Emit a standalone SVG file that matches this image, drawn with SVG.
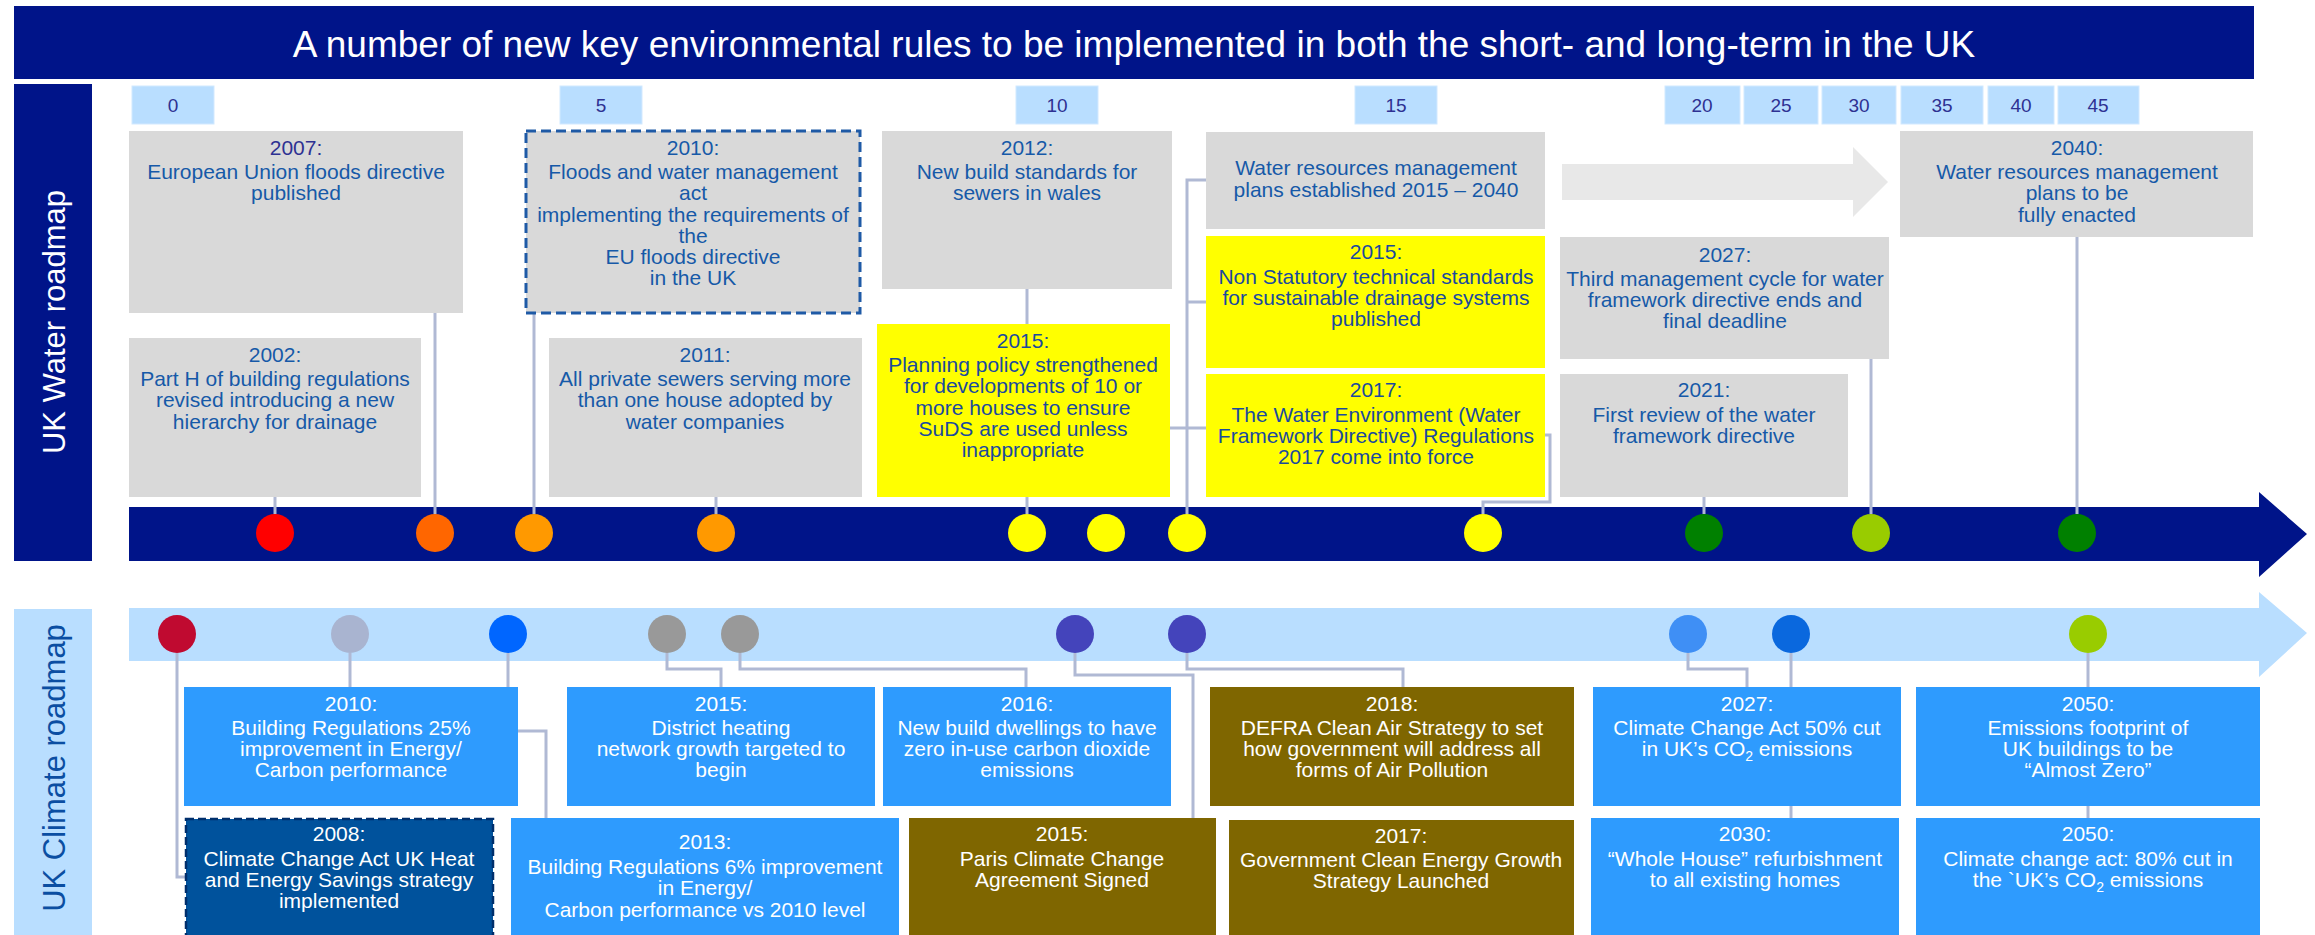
<svg xmlns="http://www.w3.org/2000/svg" width="2315" height="935" viewBox="0 0 2315 935">
  <style>
    text { font-family: "Liberation Sans", Arial, sans-serif; }
    .title { font-size: 37px; fill: #ffffff; text-anchor: middle; }
    .side { font-size: 31px; text-anchor: middle; }
    .tick rect { fill: #B9DEFF; stroke: #D2E9FF; stroke-width: 1; }
    .tick text { font-size: 19px; fill: #2E3192; text-anchor: middle; }
    .ev text { font-size: 21px; text-anchor: middle; }
    .gray rect { fill: #D9D9D9; }
    .yel rect { fill: #FFFF00; }
    .wtxt { fill: #1659A8; }
    .ytxt { fill: #1A4A9E; }
    .blue rect { fill: #2E9BFE; }
    .olive rect { fill: #7F6600; }
    .ctxt { fill: #ffffff; }
    .conn { fill: none; stroke: #B0B9D4; stroke-width: 3; }
  </style>

  <!-- heading -->
  <g id="title">
    <rect x="14" y="6" width="2240" height="73" fill="#001489"/>
    <text class="title" x="1134" y="57">A number of new key environmental rules to be implemented in both the short- and long-term in the UK</text>
  </g>

  <!-- lane labels -->
  <g id="lane-water">
    <rect x="14" y="84" width="78" height="477" fill="#001489"/>
    <text class="side" fill="#ffffff" transform="translate(65,322) rotate(-90)">UK Water roadmap</text>
  </g>
  <g id="lane-climate">
    <rect x="14" y="609" width="78" height="326" fill="#B9DEFF"/>
    <text class="side" fill="#0B4EA2" transform="translate(65,768) rotate(-90)">UK Climate roadmap</text>
  </g>

  <!-- year ticks -->
  <g id="ticks" class="tick">
    <rect x="132" y="86" width="82" height="38"/><text x="173" y="112">0</text>
    <rect x="560" y="86" width="82" height="38"/><text x="601" y="112">5</text>
    <rect x="1016" y="86" width="82" height="38"/><text x="1057" y="112">10</text>
    <rect x="1355" y="86" width="82" height="38"/><text x="1396" y="112">15</text>
    <rect x="1665" y="86" width="75" height="38"/><text x="1702" y="112">20</text>
    <rect x="1744" y="86" width="74" height="38"/><text x="1781" y="112">25</text>
    <rect x="1822" y="86" width="74" height="38"/><text x="1859" y="112">30</text>
    <rect x="1901" y="86" width="82" height="38"/><text x="1942" y="112">35</text>
    <rect x="1988" y="86" width="66" height="38"/><text x="2021" y="112">40</text>
    <rect x="2058" y="86" width="81" height="38"/><text x="2098" y="112">45</text>
  </g>

  <!-- timeline arrows -->
  <g id="water-timeline">
    <polygon points="129,507 2259,507 2259,492 2307,534 2259,577 2259,561 129,561" fill="#001489"/>
  </g>
  <g id="climate-timeline">
    <polygon points="129,608 2259,608 2259,592 2307,633 2259,677 2259,661 129,661" fill="#B9DEFF"/>
  </g>
  <g id="plan-arrow">
    <polygon points="1562,164 1853,164 1853,147 1888,182 1853,217 1853,200 1562,200" fill="#E8E8E8"/>
  </g>

  <!-- connectors -->
  <g id="connectors" class="conn">
    <path d="M275,514 V497"/>
    <path d="M435,514 V313"/>
    <path d="M534,514 V313"/>
    <path d="M716,514 V497"/>
    <path d="M1027,514 V289"/>
    <path d="M1187,514 V180 H1206 M1187,302 H1206 M1170,428 H1206"/>
    <path d="M1483,514 V502 H1550 V435 H1545"/>
    <path d="M1704,514 V497"/>
    <path d="M1871,514 V359"/>
    <path d="M2077,514 V237"/>

    <path d="M177,653 V877 H186"/>
    <path d="M350,653 V687"/>
    <path d="M508,653 V731 H546 V818"/>
    <path d="M667,653 V669 H721 V687"/>
    <path d="M740,653 V669 H1026 V687"/>
    <path d="M1075,653 V675 H1193 V818"/>
    <path d="M1187,653 V669 H1403 V687"/>
    <path d="M1688,653 V669 H1747 V687"/>
    <path d="M1791,653 V818"/>
    <path d="M2088,653 V818"/>
  </g>

  <!-- water markers -->
  <g id="water-markers">
    <circle cx="275" cy="533" r="19" fill="#FF0000"/>
    <circle cx="435" cy="533" r="19" fill="#FF6600"/>
    <circle cx="534" cy="533" r="19" fill="#FF9900"/>
    <circle cx="716" cy="533" r="19" fill="#FF9900"/>
    <circle cx="1027" cy="533" r="19" fill="#FFFF00"/>
    <circle cx="1106" cy="533" r="19" fill="#FFFF00"/>
    <circle cx="1187" cy="533" r="19" fill="#FFFF00"/>
    <circle cx="1483" cy="533" r="19" fill="#FFFF00"/>
    <circle cx="1704" cy="533" r="19" fill="#008000"/>
    <circle cx="1871" cy="533" r="19" fill="#99CC00"/>
    <circle cx="2077" cy="533" r="19" fill="#008000"/>
  </g>

  <!-- climate markers -->
  <g id="climate-markers">
    <circle cx="177" cy="634" r="19" fill="#C00A30"/>
    <circle cx="350" cy="634" r="19" fill="#A9B4D0"/>
    <circle cx="508" cy="634" r="19" fill="#0066FF"/>
    <circle cx="667" cy="634" r="19" fill="#999999"/>
    <circle cx="740" cy="634" r="19" fill="#999999"/>
    <circle cx="1075" cy="634" r="19" fill="#4444BB"/>
    <circle cx="1187" cy="634" r="19" fill="#4444BB"/>
    <circle cx="1688" cy="634" r="19" fill="#3F8FF5"/>
    <circle cx="1791" cy="634" r="19" fill="#0A68DE"/>
    <circle cx="2088" cy="634" r="19" fill="#99CC00"/>
  </g>

  <!-- water events -->
  <g id="w2007" class="ev gray">
    <rect x="129" y="131" width="334" height="182"/>
    <text x="296" y="155" fill="#2E3192">2007:</text>
    <text class="wtxt" x="296" y="179">European Union floods directive</text>
    <text class="wtxt" x="296" y="200">published</text>
  </g>
  <g id="w2010" class="ev">
    <rect x="526" y="131" width="334" height="182" fill="#D9D9D9" stroke="#1F5AA6" stroke-width="3" stroke-dasharray="10 5"/>
    <text class="wtxt" x="693" y="155">2010:</text>
    <text class="wtxt" x="693" y="179">Floods and water management</text>
    <text class="wtxt" x="693" y="200">act</text>
    <text class="wtxt" x="693" y="222">implementing the requirements of</text>
    <text class="wtxt" x="693" y="243">the</text>
    <text class="wtxt" x="693" y="264">EU floods directive</text>
    <text class="wtxt" x="693" y="285">in the UK</text>
  </g>
  <g id="w2012" class="ev gray">
    <rect x="882" y="131" width="290" height="158"/>
    <text class="wtxt" x="1027" y="155">2012:</text>
    <text class="wtxt" x="1027" y="179">New build standards for</text>
    <text class="wtxt" x="1027" y="200">sewers in wales</text>
  </g>
  <g id="w2015-plans" class="ev gray">
    <rect x="1206" y="132" width="339" height="97"/>
    <text class="wtxt" x="1376" y="175">Water resources management</text>
    <text class="wtxt" x="1376" y="197">plans established 2015 – 2040</text>
  </g>
  <g id="w2015-standards" class="ev yel">
    <rect x="1206" y="236" width="339" height="132"/>
    <text class="ytxt" x="1376" y="259">2015:</text>
    <text class="ytxt" x="1376" y="284">Non Statutory technical standards</text>
    <text class="ytxt" x="1376" y="305">for sustainable drainage systems</text>
    <text class="ytxt" x="1376" y="326">published</text>
  </g>
  <g id="w2017" class="ev yel">
    <rect x="1206" y="374" width="339" height="123"/>
    <text class="ytxt" x="1376" y="397">2017:</text>
    <text class="ytxt" x="1376" y="422">The Water Environment (Water</text>
    <text class="ytxt" x="1376" y="443">Framework Directive) Regulations</text>
    <text class="ytxt" x="1376" y="464">2017 come into force</text>
  </g>
  <g id="w2015-planning" class="ev yel">
    <rect x="877" y="324" width="293" height="173"/>
    <text class="ytxt" x="1023" y="348">2015:</text>
    <text class="ytxt" x="1023" y="372">Planning policy strengthened</text>
    <text class="ytxt" x="1023" y="393">for developments of 10 or</text>
    <text class="ytxt" x="1023" y="415">more houses to ensure</text>
    <text class="ytxt" x="1023" y="436">SuDS are used unless</text>
    <text class="ytxt" x="1023" y="457">inappropriate</text>
  </g>
  <g id="w2002" class="ev gray">
    <rect x="129" y="338" width="292" height="159"/>
    <text class="wtxt" x="275" y="362">2002:</text>
    <text class="wtxt" x="275" y="386">Part H of building regulations</text>
    <text class="wtxt" x="275" y="407">revised introducing a new</text>
    <text class="wtxt" x="275" y="429">hierarchy for drainage</text>
  </g>
  <g id="w2011" class="ev gray">
    <rect x="549" y="338" width="313" height="159"/>
    <text class="wtxt" x="705" y="362">2011:</text>
    <text class="wtxt" x="705" y="386">All private sewers serving more</text>
    <text class="wtxt" x="705" y="407">than one house adopted by</text>
    <text class="wtxt" x="705" y="429">water companies</text>
  </g>
  <g id="w2040" class="ev gray">
    <rect x="1900" y="131" width="353" height="106"/>
    <text class="wtxt" x="2077" y="155">2040:</text>
    <text class="wtxt" x="2077" y="179">Water resources management</text>
    <text class="wtxt" x="2077" y="200">plans to be</text>
    <text class="wtxt" x="2077" y="222">fully enacted</text>
  </g>
  <g id="w2027" class="ev gray">
    <rect x="1560" y="237" width="329" height="122"/>
    <text class="wtxt" x="1725" y="262">2027:</text>
    <text class="wtxt" x="1725" y="286">Third management cycle for water</text>
    <text class="wtxt" x="1725" y="307">framework directive ends and</text>
    <text class="wtxt" x="1725" y="328">final deadline</text>
  </g>
  <g id="w2021" class="ev gray">
    <rect x="1560" y="374" width="288" height="123"/>
    <text class="wtxt" x="1704" y="397">2021:</text>
    <text class="wtxt" x="1704" y="422">First review of the water</text>
    <text class="wtxt" x="1704" y="443">framework directive</text>
  </g>

  <!-- climate events -->
  <g id="c2010" class="ev blue">
    <rect x="184" y="687" width="334" height="119"/>
    <text class="ctxt" x="351" y="711">2010:</text>
    <text class="ctxt" x="351" y="735">Building Regulations 25%</text>
    <text class="ctxt" x="351" y="756">improvement in Energy/</text>
    <text class="ctxt" x="351" y="777">Carbon performance</text>
  </g>
  <g id="c2015-heating" class="ev blue">
    <rect x="567" y="687" width="308" height="119"/>
    <text class="ctxt" x="721" y="711">2015:</text>
    <text class="ctxt" x="721" y="735">District heating</text>
    <text class="ctxt" x="721" y="756">network growth targeted to</text>
    <text class="ctxt" x="721" y="777">begin</text>
  </g>
  <g id="c2016" class="ev blue">
    <rect x="883" y="687" width="288" height="119"/>
    <text class="ctxt" x="1027" y="711">2016:</text>
    <text class="ctxt" x="1027" y="735">New build dwellings to have</text>
    <text class="ctxt" x="1027" y="756">zero in-use carbon dioxide</text>
    <text class="ctxt" x="1027" y="777">emissions</text>
  </g>
  <g id="c2018" class="ev olive">
    <rect x="1210" y="687" width="364" height="119"/>
    <text class="ctxt" x="1392" y="711">2018:</text>
    <text class="ctxt" x="1392" y="735">DEFRA Clean Air Strategy to set</text>
    <text class="ctxt" x="1392" y="756">how government will address all</text>
    <text class="ctxt" x="1392" y="777">forms of Air Pollution</text>
  </g>
  <g id="c2027" class="ev blue">
    <rect x="1593" y="687" width="308" height="119"/>
    <text class="ctxt" x="1747" y="711">2027:</text>
    <text class="ctxt" x="1747" y="735">Climate Change Act 50% cut</text>
    <text class="ctxt" x="1747" y="756">in UK’s CO<tspan font-size="14" dy="5">2</tspan><tspan dy="-5"> emissions</tspan></text>
  </g>
  <g id="c2050-footprint" class="ev blue">
    <rect x="1916" y="687" width="344" height="119"/>
    <text class="ctxt" x="2088" y="711">2050:</text>
    <text class="ctxt" x="2088" y="735">Emissions footprint of</text>
    <text class="ctxt" x="2088" y="756">UK buildings to be</text>
    <text class="ctxt" x="2088" y="777">“Almost Zero”</text>
  </g>
  <g id="c2008" class="ev">
    <rect x="186" y="819" width="307" height="120" fill="#00529C" stroke="#002F6C" stroke-width="2.5" stroke-dasharray="8 4"/>
    <text class="ctxt" x="339" y="841">2008:</text>
    <text class="ctxt" x="339" y="866">Climate Change Act UK Heat</text>
    <text class="ctxt" x="339" y="887">and Energy Savings strategy</text>
    <text class="ctxt" x="339" y="908">implemented</text>
  </g>
  <g id="c2013" class="ev blue">
    <rect x="511" y="818" width="388" height="117"/>
    <text class="ctxt" x="705" y="849">2013:</text>
    <text class="ctxt" x="705" y="874">Building Regulations 6% improvement</text>
    <text class="ctxt" x="705" y="895">in Energy/</text>
    <text class="ctxt" x="705" y="917">Carbon performance vs 2010 level</text>
  </g>
  <g id="c2015-paris" class="ev olive">
    <rect x="909" y="818" width="307" height="117"/>
    <text class="ctxt" x="1062" y="841">2015:</text>
    <text class="ctxt" x="1062" y="866">Paris Climate Change</text>
    <text class="ctxt" x="1062" y="887">Agreement Signed</text>
  </g>
  <g id="c2017" class="ev olive">
    <rect x="1229" y="820" width="345" height="115"/>
    <text class="ctxt" x="1401" y="843">2017:</text>
    <text class="ctxt" x="1401" y="867">Government Clean Energy Growth</text>
    <text class="ctxt" x="1401" y="888">Strategy Launched</text>
  </g>
  <g id="c2030" class="ev blue">
    <rect x="1591" y="818" width="308" height="117"/>
    <text class="ctxt" x="1745" y="841">2030:</text>
    <text class="ctxt" x="1745" y="866">“Whole House” refurbishment</text>
    <text class="ctxt" x="1745" y="887">to all existing homes</text>
  </g>
  <g id="c2050-act" class="ev blue">
    <rect x="1916" y="818" width="344" height="117"/>
    <text class="ctxt" x="2088" y="841">2050:</text>
    <text class="ctxt" x="2088" y="866">Climate change act: 80% cut in</text>
    <text class="ctxt" x="2088" y="887">the `UK’s CO<tspan font-size="14" dy="5">2</tspan><tspan dy="-5"> emissions</tspan></text>
  </g>
</svg>
